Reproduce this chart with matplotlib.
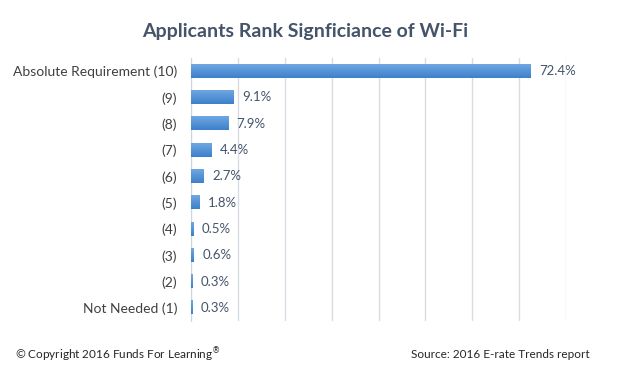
import numpy as np
import matplotlib
matplotlib.use("Agg")
import matplotlib.pyplot as plt

categorias = ["Absolute Requirement (10)", "(9)", "(8)", "(7)", "(6)", "(5)",
              "(4)", "(3)", "(2)", "Not Needed (1)"]
valores = [72.4, 9.1, 7.9, 4.4, 2.7, 1.8, 0.5, 0.6, 0.3, 0.3]
etiquetas = ["72.4%", "9.1%", "7.9%", "4.4%", "2.7%", "1.8%", "0.5%", "0.6%", "0.3%", "0.3%"]

plt.rcParams['font.family'] = ['Lato', 'DejaVu Sans']

fig = plt.figure(figsize=(6.25, 3.78), dpi=100)
ax = fig.add_axes([191 / 625, 1 - 321 / 378, (566 - 191) / 625, (321 - 58) / 378])

n = len(categorias)
pos = np.arange(n)
alto = 0.5

barras = ax.barh(pos, valores, height=alto, color="#4a8bd6", zorder=3)

# degradado vertical en cada barra
grad = np.linspace(0, 1, 50).reshape(-1, 1)
cmap = matplotlib.colors.LinearSegmentedColormap.from_list("g", ["#3d80cb", "#6fa7e1"])
for b in barras:
    x0, y0 = b.get_x(), b.get_y()
    w, h = b.get_width(), b.get_height()
    ax.imshow(grad, extent=(x0, x0 + w, y0 + h, y0), cmap=cmap, aspect="auto",
              zorder=4, origin="lower")

for p, v, t in zip(pos, valores, etiquetas):
    ax.text(v + 1.8, p, t, va="center", ha="left", fontsize=9.5, color="#44546a", zorder=5)

ax.set_xlim(0, 80)
ax.set_ylim(n - 0.5, -0.5)
ax.set_xticks(np.arange(0, 81, 10))
ax.set_xticklabels([])
ax.tick_params(axis="x", length=0)
ax.tick_params(axis="y", length=0, pad=10, labelsize=10, labelcolor="#404040")
ax.set_yticks(pos)
ax.set_yticklabels(categorias)
ax.grid(axis="x", color="#d9dde3", linewidth=1, zorder=0)
for s in ["top", "right", "bottom"]:
    ax.spines[s].set_visible(False)
ax.spines["left"].set_color("#d0d4da")

fig.text(305 / 625, 1 - 32 / 378, "Applicants Rank Signficiance of Wi-Fi",
         ha="center", va="center", fontsize=14, fontweight="bold", color="#44546a")
fig.text(15 / 625, 1 - 355 / 378, "\u00a9 Copyright 2016 Funds For Learning$^{\u00ae}$",
         ha="left", va="center", fontsize=8.5, color="#262626")
fig.text(590 / 625, 1 - 355 / 378, "Source: 2016 E-rate Trends report",
         ha="right", va="center", fontsize=8.5, color="#262626")

fig.savefig("out.png", dpi=100)
